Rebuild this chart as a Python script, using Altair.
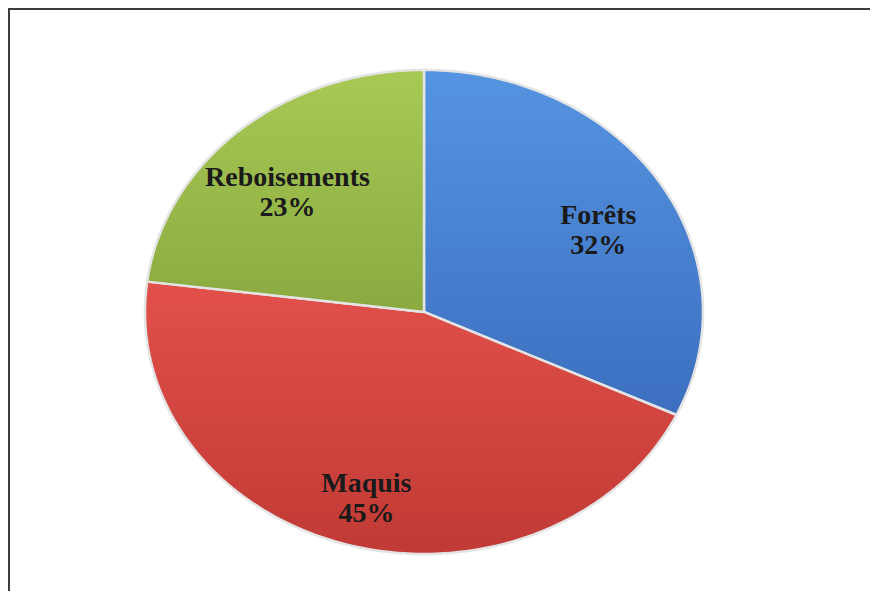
import altair as alt
import pandas as pd

categories = ["Forêts", "Maquis", "Reboisements"]
values = [32, 45, 23]
top_colors = ["#5594e0", "#e2504a", "#a8c955"]
bottom_colors = ["#3c6fbf", "#c13a35", "#8aaa40"]

df = pd.DataFrame({"cat": categories, "val": values, "order": list(range(len(categories)))})

N = 120
W, H = 862, 583

base = alt.Chart(df).transform_joinaggregate(
    total="sum(val)"
).transform_window(
    cum="sum(val)", sort=[alt.SortField("order")], frame=[None, 0]
).transform_calculate(
    a0="(datum.cum - datum.val) / datum.total * 2 * PI",
    a1="datum.cum / datum.total * 2 * PI",
)

xs = alt.Scale(domain=[-1.491, 1.5986], nice=False, zero=False)
ys = alt.Scale(domain=[-1.153, 1.256], nice=False, zero=False)

slices = base.transform_calculate(
    pts=f"sequence(0, {N + 3})"
).transform_flatten(["pts"]).transform_calculate(
    ang=f"datum.a0 + (datum.a1 - datum.a0) * (datum.pts - 1) / {N}",
    r=f"(datum.pts == 0 || datum.pts == {N + 2}) ? 0 : 1",
).transform_calculate(
    px="datum.r * sin(datum.ang)",
    py="datum.r * cos(datum.ang)",
)

layers = []
for c, tc, bc in zip(categories, top_colors, bottom_colors):
    layers.append(
        slices.transform_filter(alt.datum.cat == c).mark_line(
            fill=alt.Gradient(
                gradient="linear",
                stops=[alt.GradientStop(color=tc, offset=0), alt.GradientStop(color=bc, offset=1)],
                x1=0, x2=0, y1=0, y2=1,
            ),
            stroke="#e4e4e4",
            strokeWidth=2.5,
            strokeJoin="round",
            interpolate="linear",
        ).encode(
            x=alt.X("px:Q", scale=xs, axis=None),
            y=alt.Y("py:Q", scale=ys, axis=None),
            order="pts:Q",
        )
    )

labels = base.transform_calculate(
    mid="(datum.a0 + datum.a1) / 2",
).transform_calculate(
    lx="0.74 * sin(datum.mid)",
    ly="0.74 * cos(datum.mid)",
    label="[datum.cat, datum.val + '%']",
).mark_text(
    font="Liberation Serif", fontWeight="bold", fontSize=28, lineHeight=30,
    color="#1a1a1a", align="center", baseline="middle",
).encode(
    x=alt.X("lx:Q", scale=xs, axis=None),
    y=alt.Y("ly:Q", scale=ys, axis=None),
    text=alt.Text("label:N"),
)

frame_left = alt.Chart(df).mark_rule(color="#3c3c3c", strokeWidth=2).encode(
    x=alt.value(1), y=alt.value(0), y2=alt.value(H)
)
frame_top = alt.Chart(df).mark_rule(color="#3c3c3c", strokeWidth=2).encode(
    x=alt.value(0), x2=alt.value(W), y=alt.value(1)
)

chart = alt.layer(*layers, labels, frame_left, frame_top).properties(
    width=W, height=H, padding=0, autosize="none",
).configure(background="white").configure_view(stroke=None)

chart.save("out.html", embed_options={"renderer": "svg", "actions": False})
